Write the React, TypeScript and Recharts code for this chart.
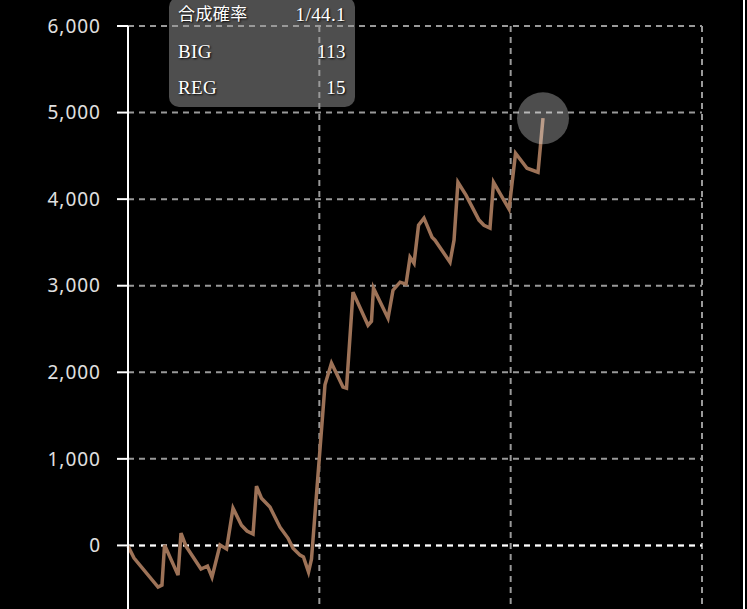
import { LineChart, Line, XAxis, YAxis, CartesianGrid, ReferenceLine, ReferenceDot } from 'recharts';

// games played (x) and medal difference (y)
const games = [
  0, 63, 314, 355, 382, 523, 554, 606, 763, 831, 878, 962, 1030, 1098, 1186, 1244, 1307, 1343, 1395, 1484,
  1589, 1672, 1725, 1798, 1834, 1887, 1918, 2059, 2127, 2247, 2284, 2352, 2509, 2545, 2566, 2718, 2770, 2844,
  2906, 2948, 2990, 3037, 3094, 3178, 3209, 3366, 3408, 3449, 3533, 3669, 3721, 3784, 3821, 3983, 4051, 4171,
  4286, 4338,
];
const diff = [
  -8, -147, -482, -458, 4, -343, 143, -8, -273, -238, -366, 4, -41, 431, 234, 166, 131, 685, 546, 443,
  211, 85, -31, -112, -134, -308, -157, 1856, 2106, 1829, 1817, 2925, 2544, 2590, 2972, 2625, 2948, 3041,
  3018, 3330, 3260, 3699, 3781, 3560, 3526, 3272, 3526, 4195, 4046, 3758, 3699, 3665, 4195, 3884, 4530, 4357,
  4311, 4935,
];

const yTicks = [0, 1000, 2000, 3000, 4000, 5000, 6000];
const xTicks = [0, 2000, 4000, 6000];

const statLabels = ['合成確率', 'BIG', 'REG'];
const statValues = ['1/44.1', '113', '15'];

const data = games.map((g, i) => ({ g, v: diff[i] }));
const last = data[data.length - 1];

export default function App() {
  return (
    <div
      style={{
        position: 'fixed',
        left: 0,
        top: 0,
        width: 747,
        height: 609,
        overflow: 'hidden',
        background: '#000',
      }}
    >
      <div
        style={{
          position: 'absolute',
          left: 169,
          top: -3,
          width: 186,
          height: 110,
          borderRadius: 10,
          background: '#4e4e4e',
          boxSizing: 'border-box',
          padding: '0 9px',
          fontFamily: '"Liberation Serif", "Noto Sans CJK JP", serif',
          fontSize: 19,
          letterSpacing: 0.4,
          color: '#fff',
          textShadow: '1px 1px 2px #000',
        }}
      >
        {statLabels.map((label, i) => (
          <div
            key={label}
            style={{ display: 'flex', justifyContent: 'space-between', height: 36.5, lineHeight: '36.5px' }}
          >
            <span style={{ fontSize: i === 0 ? 17 : 19 }}>{label}</span>
            <span>{statValues[i]}</span>
          </div>
        ))}
      </div>
      <div style={{ position: 'absolute', left: 0, top: 0 }}>
        <LineChart width={747} height={632} data={data} margin={{ top: 26, right: 45, left: 0, bottom: 0 }}>
          <CartesianGrid stroke="#999" strokeWidth={2} strokeDasharray="6 5" />
          <XAxis dataKey="g" type="number" domain={[0, 6000]} ticks={xTicks} hide />
          <YAxis
            type="number"
            domain={[-1000, 6000]}
            ticks={yTicks}
            width={128}
            axisLine={{ stroke: '#fff', strokeWidth: 2 }}
            tickLine={{ stroke: '#fff', strokeWidth: 2 }}
            tickSize={11}
            tickMargin={16}
            tick={{ fill: '#e0e0e0', fontSize: 19, fontFamily: '"Noto Sans", sans-serif', letterSpacing: 1 }}
            tickFormatter={(v: number) => v.toLocaleString('en-US')}
          />
          <ReferenceLine y={0} stroke="#fff" strokeWidth={2} strokeDasharray="6 5" />
          <Line
            type="linear"
            dataKey="v"
            stroke="#9d7257"
            strokeWidth={3.5}
            dot={false}
            activeDot={false}
            isAnimationActive={false}
          />
          <ReferenceDot x={last.g} y={last.v} r={26} fill="rgba(255,255,255,0.3)" stroke="none" />
        </LineChart>
      </div>
      <div style={{ position: 'absolute', left: 743, top: 0, width: 2, height: 609, background: '#fff' }} />
    </div>
  );
}
